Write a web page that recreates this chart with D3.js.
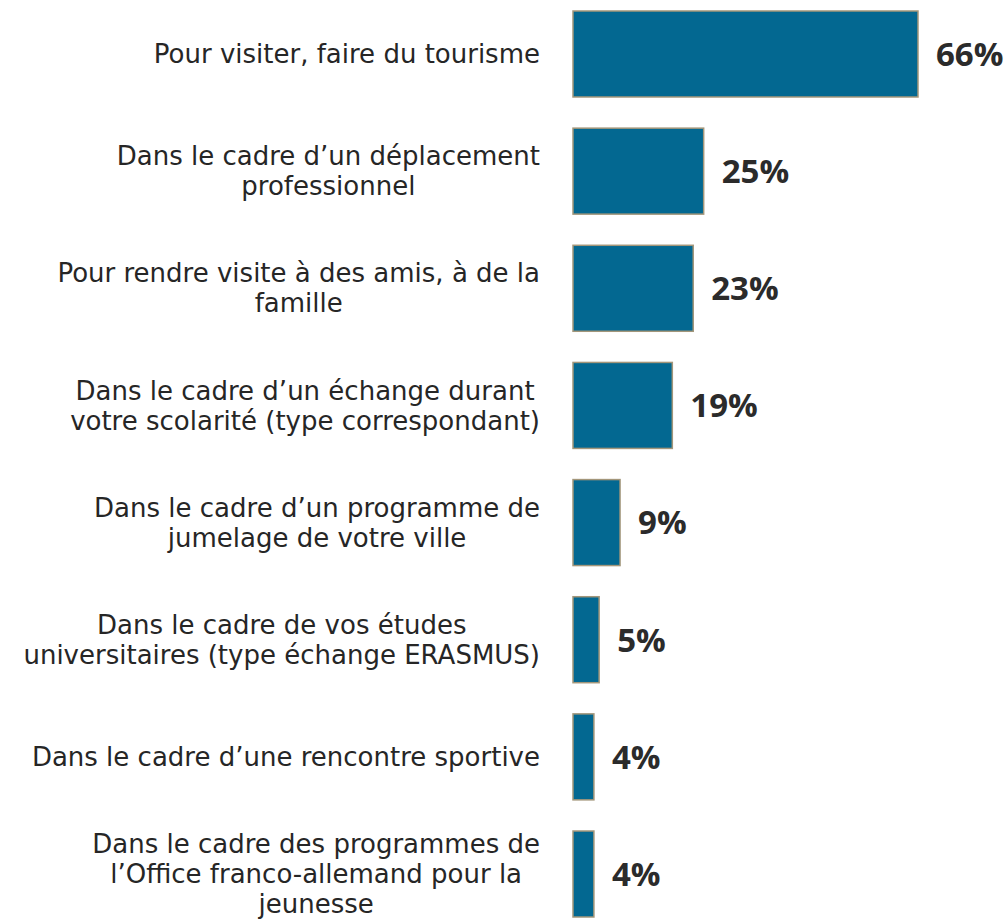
<!DOCTYPE html>
<html lang="fr">
<head>
	<meta charset="UTF-8">
	<title>Raisons du séjour</title>
	<script src="https://d3js.org/d3.v7.min.js"></script>
	<style>
		body{ margin:0; background:#fff; }
		.label{ font-family:"DejaVu Sans",sans-serif; font-size:26px; fill:#262626; }
		.value{ font-family:"Open Sans",sans-serif; font-weight:bold; font-size:33px; fill:#2b2b2b; }
		.bar{ fill:#036891; stroke:#a3967a; stroke-width:1.5px; }
	</style>
</head>
<body>
	<script type="text/javascript">
		// categories (one entry per line of the label)
		var categories = [
			["Pour visiter, faire du tourisme"],
			["Dans le cadre d\u2019un déplacement", "professionnel"],
			["Pour rendre visite à des amis, à de la", "famille"],
			["Dans le cadre d\u2019un échange durant", "votre scolarité (type correspondant)"],
			["Dans le cadre d\u2019un programme de", "jumelage de votre ville"],
			["Dans le cadre de vos études", "universitaires (type échange ERASMUS)"],
			["Dans le cadre d\u2019une rencontre sportive"],
			["Dans le cadre des programmes de", "l\u2019Office franco-allemand pour la", "jeunesse"]
		];
		var values = [66, 25, 23, 19, 9, 5, 4, 4];
		var valueLabels = ["66%", "25%", "23%", "19%", "9%", "5%", "4%", "4%"];

		var width = 1008, height = 924;
		var svg = d3.select("body").append("svg")
			.attr("width", width)
			.attr("height", height);

		var idx = d3.range(values.length);
		var y = d3.scaleBand().domain(idx).range([11, 917]).paddingInner(0.266).paddingOuter(0);
		var x = d3.scaleLinear().domain([0, 66]).range([573, 918]);

		svg.selectAll(".bar")
			.data(idx)
			.enter().append("rect")
			.attr("class", "bar")
			.attr("x", x(0))
			.attr("y", function(i){ return y(i); })
			.attr("width", function(i){ return x(values[i]) - x(0); })
			.attr("height", y.bandwidth());

		svg.selectAll(".value")
			.data(idx)
			.enter().append("text")
			.attr("class", "value")
			.attr("x", function(i){ return x(values[i]) + 18; })
			.attr("y", function(i){ return y(i) + y.bandwidth() / 2; })
			.attr("dy", "0.36em")
			.text(function(i){ return valueLabels[i]; });

		var lineH = 30, rightEdge = 540;
		idx.forEach(function(i){
			var lines = categories[i];
			var g = svg.append("g");
			var t = g.append("text").attr("class", "label").attr("text-anchor", "middle");
			var top = y(i) + y.bandwidth() / 2 - (lines.length - 1) * lineH / 2;
			lines.forEach(function(l, k){
				t.append("tspan").attr("x", 0).attr("y", top + k * lineH).attr("dy", "0.35em").text(l);
			});
			var bb = t.node().getBBox();
			g.attr("transform", "translate(" + (rightEdge - (bb.x + bb.width)) + ",0)");
		});
	</script>
</body>
</html>
